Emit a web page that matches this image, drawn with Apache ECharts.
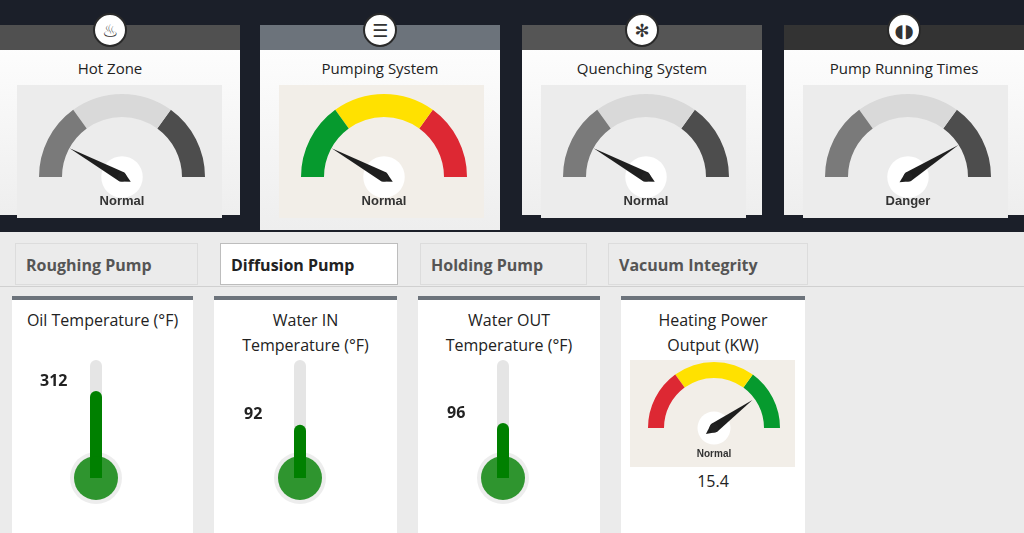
<!DOCTYPE html>
<html>
<head>
<meta charset="utf-8">
<script src="https://cdn.jsdelivr.net/npm/echarts@6/dist/echarts.min.js"></script>
<style>
  body { margin: 0; width: 1024px; height: 533px; overflow: hidden; background: #ebebeb; font-family: "Open Sans", "DejaVu Sans", sans-serif; position: relative; }
  .abs { position: absolute; }
  .top-bg { left: 0; top: 0; width: 1024px; height: 232px; background: #1b1f29; }
  .card { background: linear-gradient(#ffffff, #eeeeee); }
  .hdr { height: 25px; }
  .icon { width: 30px; height: 30px; border-radius: 50%; background: #fff; border: 2px solid #2a2a2a; color: #333; font-size: 18px; line-height: 30px; text-align: center; }
  .title { font-size: 15px; color: #222; text-align: center; }
  .gbox { width: 205px; height: 133px; }
  .tab { top: 243px; height: 42px; border: 1px solid #dcdcdc; background: #ebebeb; font: bold 16px "Open Sans", sans-serif; color: #555; line-height: 42px; padding-left: 10px; box-sizing: border-box; }
  .tab.sel { background: #fff; border-color: #bdbdbd; color: #222; }
  .bcard { top: 296px; height: 240px; background: #fff; border-top: 4px solid #6c737b; box-sizing: border-box; }
  .btitle { font-size: 16px; color: #222; text-align: center; line-height: 25px; margin-top: 8px; }
</style>
</head>
<body>
<div class="abs top-bg"></div>
<div id="top"></div>
<div class="abs" style="left:0;top:286px;width:1024px;height:1px;background:#d0d0d0"></div>
<div id="tabs"></div>
<div id="bottom"></div>
<script>
// 顶部仪表盘
const topTitles = ['Hot Zone', 'Pumping System', 'Quenching System', 'Pump Running Times'];
const topValues = [16, 16, 16, 82];
const topStatus = ['Normal', 'Normal', 'Normal', 'Danger'];
const topIcons = ['♨', '☰', '✻', '◖◗'];
// 选项卡
const tabNames = ['Roughing Pump', 'Diffusion Pump', 'Holding Pump', 'Vacuum Integrity'];
// 温度计
const thermoTitles = ['Oil Temperature (°F)', 'Water IN<br>Temperature (°F)', 'Water OUT<br>Temperature (°F)'];
const thermoValues = [312, 92, 96];
const thermoMax = [423, 204, 206];
// 加热功率
const powerValue = 15.4;
const powerGauge = 80;

const grayBands = [[0.3, '#7a7a7a'], [0.7, '#d9d9d9'], [1, '#4d4d4d']];
const colorBands = [[0.3, '#069a2e'], [0.7, '#ffe100'], [1, '#dd2833']];
const powerBands = [[0.3, '#dd2833'], [0.7, '#ffe100'], [1, '#069a2e']];

const cardX = [-20, 260, 522, 784];
const hdrColors = ['#505050', '#6c737b', '#555555', '#333333'];
const boxColors = ['#ececec', '#f2eee8', '#ececec', '#ececec'];

function gaugeOption(value, bands, status, radius, width, center, fs) {
  return {
    series: [{
      type: 'gauge', startAngle: 180, endAngle: 0, min: 0, max: 100,
      center: center, radius: radius,
      axisLine: { lineStyle: { width: width, color: bands } },
      axisTick: { show: false }, splitLine: { show: false }, axisLabel: { show: false },
      pointer: { length: '72%', width: 5, offsetCenter: [0, 0], itemStyle: { color: '#1e1e1e' } },
      anchor: { show: true, size: radius * 0.5, showAbove: false, itemStyle: { color: '#fff' } },
      title: { show: false },
      detail: { formatter: () => status, offsetCenter: [0, fs > 11 ? '30%' : '40%'], fontSize: fs, color: '#333', fontFamily: 'Arial, sans-serif' },
      data: [{ value: value }]
    }, {
      type: 'gauge', startAngle: 180, endAngle: 0, center: center, radius: radius,
      axisLine: { show: false }, axisTick: { show: false }, splitLine: { show: false }, axisLabel: { show: false },
      pointer: { show: false }, detail: { show: false },
      anchor: { show: true, size: 9, itemStyle: { color: '#222' } }, data: [{ value: 0 }]
    }]
  };
}

let topHtml = '';
topTitles.forEach((t, i) => {
  const x = cardX[i];
  const h = i === 1 ? 205 : 190;
  const w = i === 0 ? 260 : 240;
  topHtml += `<div class="abs card" style="left:${x}px;top:25px;width:${w}px;height:${h}px">
    <div class="hdr" style="background:${hdrColors[i]}"></div>
    <div class="title" style="margin-top:8px">${t}</div>
  </div>
  <div class="abs icon" style="left:${x + w / 2 - 17}px;top:13px">${topIcons[i]}</div>
  <div class="abs gbox" id="g${i}" style="left:${x + (i === 0 ? 37 : 19)}px;top:85px;background:${boxColors[i]}"></div>`;
});
document.getElementById('top').innerHTML = topHtml;

const tabX = [15, 220, 420, 608];
const tabW = [183, 178, 167, 200];
document.getElementById('tabs').innerHTML = tabNames.map((n, i) =>
  `<div class="abs tab${i === 1 ? ' sel' : ''}" style="left:${tabX[i]}px;width:${tabW[i]}px">${n}</div>`).join('');

const bX = [12, 214, 418, 621];
const bW = [181, 183, 182, 184];
let bHtml = '';
thermoTitles.forEach((t, i) => {
  bHtml += `<div class="abs bcard" style="left:${bX[i]}px;width:${bW[i]}px"><div class="btitle">${t}</div></div>
  <div class="abs" id="t${i}" style="left:${bX[i]}px;top:350px;width:${bW[i]}px;height:160px"></div>`;
});
bHtml += `<div class="abs bcard" style="left:${bX[3]}px;width:${bW[3]}px"><div class="btitle">Heating Power<br>Output (KW)</div>
  <div class="abs" style="left:0;top:170px;width:100%;text-align:center;font-size:16px;color:#222">${powerValue}</div></div>
  <div class="abs" id="pw" style="left:630px;top:360px;width:165px;height:107px;background:#f2eee8"></div>`;
document.getElementById('bottom').innerHTML = bHtml;

topTitles.forEach((t, i) => {
  const c = echarts.init(document.getElementById('g' + i));
  c.setOption(gaugeOption(topValues[i], i === 1 ? colorBands : grayBands, topStatus[i], 83, 23, [105, 92], 13));
});
echarts.init(document.getElementById('pw')).setOption(gaugeOption(powerGauge, powerBands, 'Normal', 66, 16, [84, 68], 10));

thermoValues.forEach((v, i) => {
  const c = echarts.init(document.getElementById('t' + i));
  const cx = [84, 86, 85][i];
  c.setOption({
    grid: { left: cx - 40, width: 80, top: 10, bottom: 32 },
    xAxis: { type: 'category', data: [''], show: false },
    yAxis: { type: 'value', min: 0, max: thermoMax[i], show: false },
    series: [{
      type: 'bar', data: [v], barWidth: 12, z: 3,
      itemStyle: { color: '#008000', borderRadius: [6, 6, 0, 0] },
      showBackground: true,
      backgroundStyle: { color: '#e5e5e5', borderRadius: 9 },
      label: { show: true, position: [-50, -18], fontSize: 16, fontWeight: 'bold', color: '#222', fontFamily: 'Open Sans, sans-serif' }
    }, {
      type: 'scatter', data: [0], symbolSize: 52, z: 2, silent: true,
      itemStyle: { color: '#e8e8e8' }
    }, {
      type: 'scatter', data: [0], symbolSize: 44, z: 4, silent: true,
      itemStyle: { color: '#008000' }
    }]
  });
});
</script>
</body>
</html>
